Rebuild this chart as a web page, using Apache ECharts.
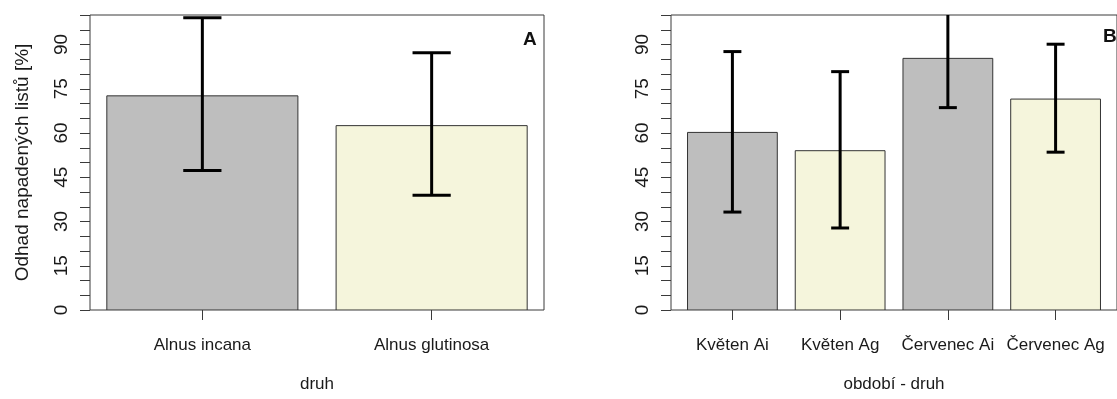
<!DOCTYPE html>
<html>
<head>
<meta charset="utf-8">
<script src="https://cdn.jsdelivr.net/npm/echarts@6/dist/echarts.min.js"></script>
<style>
  html, body { margin: 0; padding: 0; background: #ffffff; }
  #chart { width: 1117px; height: 399px; }
</style>
</head>
<body>
<div id="chart"></div>
<script>
// Panel A: estimated share of affected leaves by species
const speciesLabels = ['Alnus incana', 'Alnus glutinosa'];
const speciesMean = [72.6, 62.5];
const speciesLow = [47.3, 38.9];
const speciesHigh = [99.1, 87.2];

// Panel B: the same estimate by sampling period and species
const periodLabels = ['Květen Ai', 'Květen Ag', 'Červenec Ai', 'Červenec Ag'];
const periodMean = [60.2, 54.0, 85.3, 71.5];
const periodLow = [33.2, 27.8, 68.6, 53.5];
const periodHigh = [87.6, 80.8, 102.0, 90.1];

// y axis: ticks every 5, labels every 15
const yMin = 0, yMax = 100, yTickStep = 5, yLabelStep = 15, yLabelMax = 90;
const yTitle = 'Odhad napadených listů [%]';
const xTitles = ['druh', 'období - druh'];
const panelTags = ['A', 'B'];
const barFills = ['#bebebe', '#f5f5dc'];

const FONT = '"Liberation Sans", Arial, sans-serif';
const INK = '#1a1a1a';
const LINE = '#3a3a3a';

// barplot layout: unit-width bars separated by 0.2, axis padded by 4%
const SPACE = 0.2, WIDTH = 1;
const centerOf = i => SPACE + WIDTH / 2 + i * (SPACE + WIDTH);
function xLimits(n) {
  const lo = SPACE, hi = n * (SPACE + WIDTH);
  const pad = 0.04 * (hi - lo);
  return [lo - pad, hi + pad];
}

function makeXAxis(gridIndex, labels, title) {
  const lim = xLimits(labels.length);
  const centers = labels.map((_, i) => centerOf(i));
  return {
    type: 'value', gridIndex, min: lim[0], max: lim[1],
    splitLine: { show: false },
    axisLine: { show: false },
    axisTick: { show: true, customValues: centers, length: 10, lineStyle: { color: LINE, width: 1 } },
    axisLabel: {
      show: true, customValues: centers, margin: 27,
      fontFamily: FONT, fontSize: 17, color: INK,
      formatter: v => labels[Math.round((v - centerOf(0)) / (SPACE + WIDTH))]
    },
    name: title, nameLocation: 'middle', nameGap: 66,
    nameTextStyle: { fontFamily: FONT, fontSize: 17, color: INK }
  };
}

function makeYAxis(gridIndex, withTitle) {
  return {
    type: 'value', gridIndex, min: yMin, max: yMax, interval: yTickStep,
    splitLine: { show: false },
    axisLine: { show: false },
    axisTick: { show: true, length: 10, lineStyle: { color: LINE, width: 1 } },
    axisLabel: {
      rotate: 90, margin: 19, fontFamily: FONT, fontSize: 19, color: INK,
      formatter: v => (v % yLabelStep === 0 && v <= yLabelMax) ? String(v) : ''
    },
    name: withTitle ? yTitle : '', nameLocation: 'middle', nameGap: 58, nameRotate: 90,
    nameTextStyle: { fontFamily: FONT, fontSize: 19, color: INK }
  };
}

function barSeries(axisIndex, means) {
  return {
    type: 'custom', xAxisIndex: axisIndex, yAxisIndex: axisIndex, clip: true,
    data: means.map((m, i) => [i, m]),
    renderItem: (params, api) => {
      const i = api.value(0);
      const c = centerOf(i);
      const top = api.coord([c - WIDTH / 2, api.value(1)]);
      const base = api.coord([c + WIDTH / 2, 0]);
      return {
        type: 'rect',
        shape: { x: top[0], y: top[1], width: base[0] - top[0], height: base[1] - top[1] },
        style: { fill: barFills[i % 2], stroke: '#333333', lineWidth: 1 }
      };
    }
  };
}

function errorSeries(axisIndex, lows, highs) {
  return {
    type: 'custom', xAxisIndex: axisIndex, yAxisIndex: axisIndex, clip: true, z: 5,
    data: lows.map((l, i) => [i, l, highs[i]]),
    renderItem: (params, api) => {
      const c = centerOf(api.value(0));
      const lo = api.coord([c, api.value(1)]);
      const hi = api.coord([c, api.value(2)]);
      const capL = api.coord([c - 0.1, 0])[0];
      const capR = api.coord([c + 0.1, 0])[0];
      const st = { stroke: '#000000', lineWidth: 3 };
      return {
        type: 'group',
        children: [
          { type: 'line', shape: { x1: lo[0], y1: lo[1], x2: hi[0], y2: hi[1] }, style: st },
          { type: 'line', shape: { x1: capL, y1: lo[1], x2: capR, y2: lo[1] }, style: st },
          { type: 'line', shape: { x1: capL, y1: hi[1], x2: capR, y2: hi[1] }, style: st }
        ]
      };
    }
  };
}

const chart = echarts.init(document.getElementById('chart'), null, { renderer: 'canvas' });
chart.setOption({
  backgroundColor: '#ffffff',
  animation: false,
  grid: [
    { left: 90, top: 15, width: 454, height: 295, show: true, borderColor: LINE, borderWidth: 1, backgroundColor: 'transparent' },
    { left: 671, top: 15, width: 454, height: 295, show: true, borderColor: LINE, borderWidth: 1, backgroundColor: 'transparent' }
  ],
  xAxis: [
    makeXAxis(0, speciesLabels, xTitles[0]),
    makeXAxis(1, periodLabels, xTitles[1])
  ],
  yAxis: [makeYAxis(0, true), makeYAxis(1, false)],
  graphic: [
    { type: 'text', left: 523, top: 30, style: { text: panelTags[0], font: 'bold 19px ' + FONT, fill: '#111' } },
    { type: 'text', left: 1103, top: 27, style: { text: panelTags[1], font: 'bold 19px ' + FONT, fill: '#111' } }
  ],
  series: [
    barSeries(0, speciesMean),
    errorSeries(0, speciesLow, speciesHigh),
    barSeries(1, periodMean),
    errorSeries(1, periodLow, periodHigh)
  ]
});
</script>
</body>
</html>
